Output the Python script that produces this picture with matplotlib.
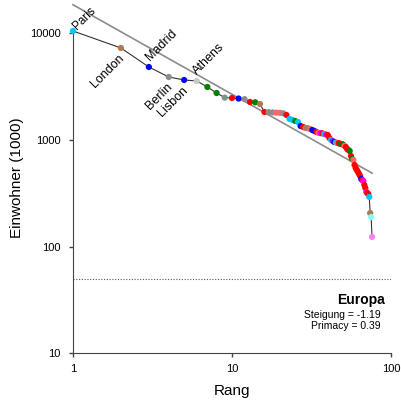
import matplotlib
matplotlib.use("Agg")
import matplotlib.pyplot as plt
import numpy as np

plt.rcParams["font.family"] = ["Liberation Sans", "DejaVu Sans"]

# population (1000s) of European cities, ordered by rank
population = [
    10550, 7310, 4845, 3905, 3660, 3580, 3145, 2762, 2500, 2480,
    2450, 2420, 2275, 2260, 2178, 1832, 1825, 1815, 1805, 1800,
    1780, 1718, 1575, 1541, 1508, 1475, 1353, 1324, 1296, 1290,
    1269, 1241, 1215, 1189, 1164, 1160, 1155, 1138, 1126, 1114,
    1044, 1000, 979, 958, 948, 937, 935, 917, 915, 905,
    879, 860, 823, 805, 788, 708, 663, 649, 583, 546,
    522, 501, 480, 459, 430, 421, 412, 378, 354, 325,
    318, 311, 292, 206, 189, 123,
]
colors = [
    "#00C8FF", "#B07850", "#0000FF", "#8C8C8C", "#0000FF", "#C8C8C8", "#008000", "#008000", "#8C8C8C", "#FF0000",
    "#0000FF", "#8C8C8C", "#FF0000", "#008000", "#B07850", "#FF0000", "#8C8C8C", "#8C8C8C", "#FF6666", "#FF6666",
    "#8C8C8C", "#FF0000", "#00C8FF", "#00C8FF", "#008000", "#00C8FF", "#0000FF", "#FF0000", "#A08070", "#B07850",
    "#FF6666", "#0000FF", "#0000FF", "#FF0000", "#FF6666", "#FF00FF", "#FF0000", "#00C8FF", "#FF00FF", "#FF0000",
    "#FF0000", "#00C8FF", "#8A2BE2", "#0000FF", "#00C8FF", "#FF6666", "#FF0000", "#008000", "#FF0000", "#008000",
    "#FF6666", "#FF0000", "#FF0000", "#FF0000", "#008000", "#FF0000", "#008000", "#FF6666", "#FF0000", "#FF0000",
    "#FF0000", "#FF0000", "#FF0000", "#FF0000", "#0000FF", "#FF0000", "#FF00FF", "#FF0000", "#FF0000", "#FF00FF",
    "#FF0000", "#FF0000", "#00C8FF", "#B07850", "#80FFFF", "#FF80FF",
]
labels = {1: "Paris", 2: "London", 3: "Madrid", 4: "Berlin", 5: "Lisbon", 6: "Athens"}
label_above = {"Paris", "Madrid", "Athens"}

steigung = -1.19
primacy = 0.39
intercept = 18600
threshold = 50

rank = np.arange(1, len(population) + 1)

fig = plt.figure(figsize=(4.02, 4.03), dpi=100)
ax = fig.add_axes([0.1816, 0.124, 0.791, 0.8725])
ax.set_xscale("log")
ax.set_yscale("log")
ax.set_xlim(1, 100)
ax.set_ylim(10, 20000)

# rank-size regression line
fit_x = np.array([1, rank[-1]])
fit_y = intercept * fit_x ** (1 / steigung)
ax.plot(fit_x, fit_y, color="#8C8C8C", lw=1.2, clip_on=False, zorder=2)

ax.axhline(threshold, color="#555555", lw=0.8, ls=(0, (1, 1.5)), zorder=1)

ax.plot(rank, population, color="#333333", lw=0.8, zorder=3, clip_on=False)
ax.scatter(rank, population, c=colors, s=20, linewidths=0, zorder=4, clip_on=False)

for r, name in labels.items():
    if name == "Paris":
        off, ha, va = (4.5, -0.5), "left", "bottom"
    elif name in label_above:
        off, ha, va = (2, 3), "left", "bottom"
    else:
        off, ha, va = (-2, -3), "right", "top"
    ax.annotate(name, (r, population[r - 1]), xytext=off, textcoords="offset points",
                rotation=45, rotation_mode="anchor", ha=ha, va=va,
                fontsize=8.5 if name == "Paris" else 9)

ax.text(0.98, 0.13, "Europa", transform=ax.transAxes, ha="right", va="bottom",
        fontsize=10, fontweight="bold")
ax.text(0.968, 0.122, f"Steigung = {steigung:.2f}\nPrimacy = {primacy:.2f}",
        transform=ax.transAxes, ha="right", va="top", fontsize=7.5, linespacing=1.15)

for side in ["top", "right"]:
    ax.spines[side].set_visible(False)
for side in ["left", "bottom"]:
    ax.spines[side].set_color("#444444")
ax.spines["left"].set_bounds(10, 10000)

ax.set_yticks([10, 100, 1000, 10000])
ax.set_yticklabels(["10", "100", "1000", "10000"])
ax.set_xticks([1, 10, 100])
ax.set_xticklabels(["1", "10", "100"])
ax.minorticks_off()
ax.tick_params(length=3, width=1, color="#444444", labelsize=8)
ax.tick_params(axis="y", pad=6)
ax.tick_params(axis="x", pad=5)

ax.set_xlabel("Rang", fontsize=11, labelpad=7)
ax.set_ylabel("Einwohner (1000)", fontsize=11, labelpad=4)

fig.savefig("out.png", dpi=100)
